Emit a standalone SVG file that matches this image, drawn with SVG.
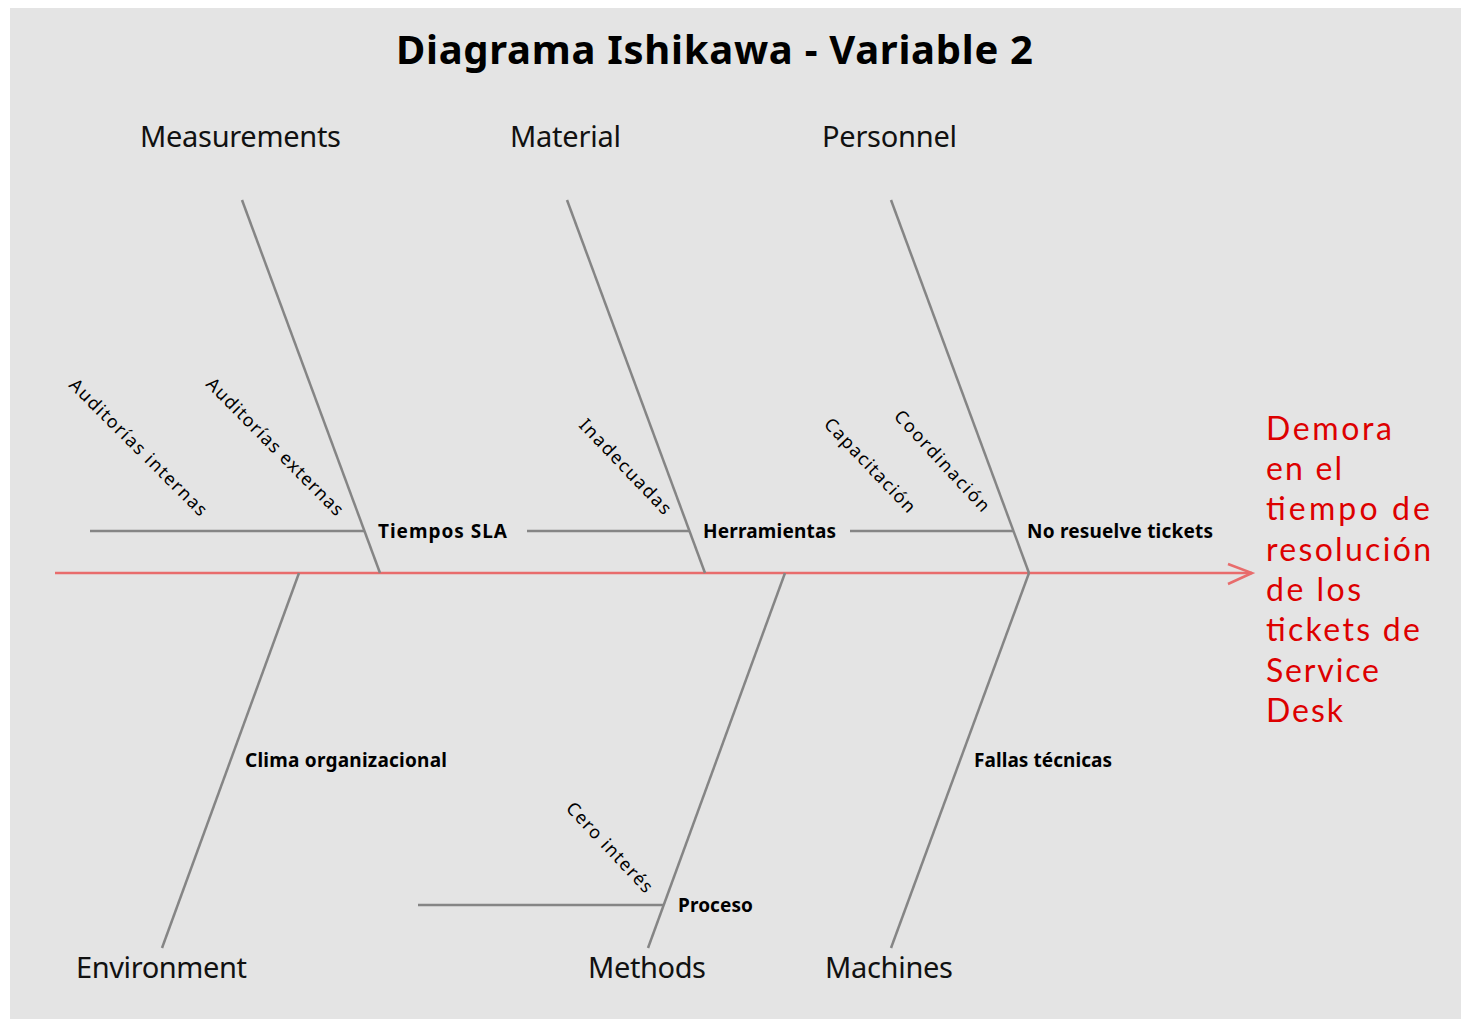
<svg xmlns="http://www.w3.org/2000/svg" width="1461" height="1019" viewBox="0 0 1461 1019">
  <style>
    .bg { fill: #e4e4e4; }
    .bone { stroke: #858585; stroke-width: 2.5; fill: none; stroke-linecap: butt; }
    .spine { stroke: #e86c6c; stroke-width: 2.5; fill: none; }
    .title { font-family: "Noto Sans", "Open Sans", "Liberation Sans", sans-serif; font-weight: bold; font-size: 40px; fill: #000; }
    .cat { font-family: "Noto Sans", "Open Sans", "Liberation Sans", sans-serif; font-size: 29px; fill: #111; text-anchor: start; }
    .cause { font-family: "Noto Sans", "Open Sans", "Liberation Sans", sans-serif; font-weight: bold; font-size: 19px; fill: #000; }
    .sub { font-family: "Noto Sans", "Open Sans", "Liberation Sans", sans-serif; font-size: 18px; fill: #000; }
    .effect { font-family: Lato, "Liberation Sans", sans-serif; font-size: 32px; fill: #dd0000; }
  </style>

  <rect class="bg" x="10" y="8" width="1451" height="1011"/>

  <text class="title" x="396" y="64" textLength="637">Diagrama Ishikawa - Variable 2</text>

  <!-- connectors: spine, main bones, sub-bones -->
  <g id="connectors">
    <line class="spine" x1="55" y1="573" x2="1252" y2="573"/>
    <polyline class="spine" points="1228,564 1252,573 1228,584"/>

    <line class="bone" x1="242" y1="200" x2="380" y2="573"/>
    <line class="bone" x1="567" y1="200" x2="705" y2="573"/>
    <line class="bone" x1="891" y1="200" x2="1029" y2="573"/>

    <line class="bone" x1="299" y1="573" x2="162" y2="948"/>
    <line class="bone" x1="785" y1="573" x2="648" y2="948"/>
    <line class="bone" x1="1029" y1="573" x2="891" y2="948"/>

    <line class="bone" x1="90" y1="531" x2="364" y2="531"/>
    <line class="bone" x1="527" y1="531" x2="689" y2="531"/>
    <line class="bone" x1="850" y1="531" x2="1013" y2="531"/>
    <line class="bone" x1="418" y1="905" x2="664" y2="905"/>
  </g>

  <g id="measurements">
    <text class="cat" x="140" y="147" textLength="201">Measurements</text>
    <text class="cause" x="378" y="538" textLength="129">Tiempos SLA</text>
    <text class="sub" transform="translate(68,386) rotate(44.8)" textLength="186">Auditorías internas</text>
    <text class="sub" transform="translate(205,385) rotate(45.2)" textLength="186">Auditorías externas</text>
  </g>

  <g id="material">
    <text class="cat" x="510" y="147" textLength="111">Material</text>
    <text class="cause" x="703" y="538" textLength="133">Herramientas</text>
    <text class="sub" transform="translate(578,426) rotate(46.3)" textLength="124">Inadecuadas</text>
  </g>

  <g id="personnel">
    <text class="cat" x="822" y="147" textLength="135">Personnel</text>
    <text class="cause" x="1027" y="538" textLength="186">No resuelve tickets</text>
    <text class="sub" transform="translate(823,425) rotate(46.3)" textLength="123">Capacitación</text>
    <text class="sub" transform="translate(893,417) rotate(47.2)" textLength="131">Coordinación</text>
  </g>

  <g id="environment">
    <text class="cat" x="76" y="978" textLength="171">Environment</text>
    <text class="cause" x="245" y="767" textLength="202">Clima organizacional</text>
  </g>

  <g id="methods">
    <text class="cat" x="588" y="978" textLength="118">Methods</text>
    <text class="cause" x="678" y="912" textLength="75">Proceso</text>
    <text class="sub" transform="translate(565,809) rotate(46.7)" textLength="117">Cero interés</text>
  </g>

  <g id="machines">
    <text class="cat" x="825" y="978" textLength="128">Machines</text>
    <text class="cause" x="974" y="767" textLength="138">Fallas técnicas</text>
  </g>

  <g id="effect">
    <text class="effect" x="1266" y="440" textLength="126">Demora</text>
    <text class="effect" x="1266" y="480" textLength="76">en el</text>
    <text class="effect" x="1266" y="520" textLength="164">tiempo de</text>
    <text class="effect" x="1266" y="561" textLength="165">resolución</text>
    <text class="effect" x="1266" y="601" textLength="95">de los</text>
    <text class="effect" x="1266" y="641" textLength="154">tickets de</text>
    <text class="effect" x="1266" y="682" textLength="113">Service</text>
    <text class="effect" x="1266" y="722" textLength="77">Desk</text>
  </g>
</svg>
